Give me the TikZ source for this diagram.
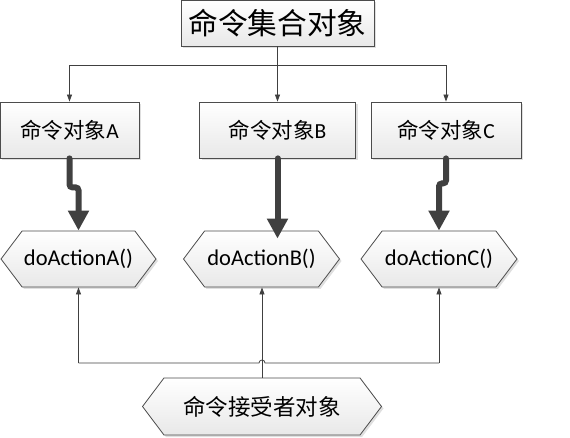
\documentclass[tikz,border=0pt]{standalone}
\usepackage{fontspec}
\setmainfont{Carlito}
\newfontfamily\cjk{Noto Sans CJK SC}
\usetikzlibrary{shapes.symbols,arrows.meta,shadows}

\begin{document}
\begin{tikzpicture}[x=1pt,y=-1pt,
  box/.style={draw=black!70,line width=0.8pt,top color=white,bottom color=black!9,
    drop shadow={shadow xshift=2pt,shadow yshift=-2pt,opacity=0.25},
    minimum height=56pt,inner sep=0pt,font=\fontsize{21.5}{26}\selectfont},
  hexa/.style={box,signal,signal to=west and east,signal pointer angle=106,
    font=\fontsize{22.5}{27}\selectfont},
  link/.style={draw=black!75,line width=0.8pt,-{Triangle[width=5pt,length=7pt]}},
  flow/.style={draw=black!75,line width=6pt,rounded corners=3pt,line cap=round,
    -{Triangle[width=20pt,length=20pt]}}]
		\useasboundingbox (0,0) rectangle (570,438);
		
		\node[box,minimum width=193pt,minimum height=46pt,font=\fontsize{29.7}{34}\selectfont] (set) at (277.5,23) {\cjk 命令集合对象};
		\node[box,minimum width=139pt] (cmdA) at (69.5,130) {{\cjk 命令对象}A};
		\node[box,minimum width=156pt] (cmdB) at (277.5,130) {{\cjk 命令对象}B};
		\node[box,minimum width=150pt] (cmdC) at (446,130) {{\cjk 命令对象}C};
		
		\node[hexa,minimum width=155pt] (actA) at (78.5,259) {doActionA()};
		\node[hexa,minimum width=156pt] (actB) at (261.5,259) {doActionB()};
		\node[hexa,minimum width=156pt] (actC) at (439,259) {doActionC()};
		\node[hexa,minimum width=239pt,minimum height=57pt] (recv) at (262,406.5) {\cjk 命令接受者对象};
		
		% top box to the commands
		\coordinate (split) at (set.south |- 0,65);
		\draw[link] (set.south) -- (cmdB.north);
		\draw[link] (split) -| (cmdA.north);
		\draw[link] (split) -| (cmdC.north);
		
		% commands to the actions
		\draw[flow] (cmdA.south) -- ++(0,29) -| (actA.north);
		\draw[flow] (cmdB.south) -- ([yshift=-8pt]cmdB.south |- actB.north);
		\draw[flow] (cmdC.south) -- ++(0,25) -| (actC.north);
		
		% receiver to the actions
		\coordinate (hubA) at (actA.south |- 0,363);
		\coordinate (hubC) at (actC.south |- 0,363);
		\draw[link] (recv.north) -- (recv.north |- actB.south);
		\draw[draw=black!75,line width=0.8pt] (hubA) -- (259,363) arc[start angle=180,end angle=0,radius=3pt] -- (hubC);
		\draw[link] (hubA) -- (actA.south);
		\draw[link] (hubC) -- (actC.south);
\end{tikzpicture}
\end{document}
